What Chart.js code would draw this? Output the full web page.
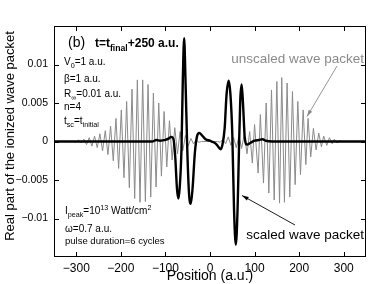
<!DOCTYPE html>
<html>
  <head>
    <title>Wave packet</title>
    <style>
      body {
        margin: 0;
        background: #fff;
      }
    </style>
  </head>
  <body>
    <canvas id="waveChart" width="388" height="284"></canvas>

    <script src="https://cdn.jsdelivr.net/npm/chart.js"></script>
    <script>
      // unscaled wave packet (grey), extrema
      var grayX = [
        -350, -307, -301, -295, -289, -283, -277, -271, -265, -259, -253, -247,
        -241, -235, -229, -223, -217, -211, -205, -199, -193, -187, -181, -175,
        -169, -163, -157, -151, -145, -139, -133, -127, -121, -115, -109, -103,
        -97, -91, -85, -79, -73, -67, -61, -55, -49, -43, -37, -31, -25, -19,
        17, 23, 29, 35, 41, 47, 53, 59, 65, 71, 77, 83, 89, 95, 100, 108, 113,
        120, 126, 132, 138, 144, 150, 156, 161, 167, 173, 179, 185, 191, 197,
        203, 209, 215, 220, 226, 232, 238, 244, 250, 255, 262, 268, 274, 279,
        285, 291, 297, 350,
      ];
      var grayY = [
        0, 0, -0.0001, 0.0002, -0.0002, 0.0003, -0.0004, 0.0005, -0.0006,
        0.0007, -0.0008, 0.001, -0.0012, 0.0014, -0.0017, 0.002, -0.0025, 0.003,
        -0.0035, 0.0041, -0.0047, 0.0052, -0.006, 0.0068, -0.0074, 0.008,
        -0.0079, 0.008, -0.0078, 0.0074, -0.0072, 0.0063, -0.0059, 0.005,
        -0.0045, 0.0039, -0.0033, 0.0027, -0.0024, 0.0018, -0.0016, 0.0013,
        -0.0012, 0.0008, -0.0006, 0.0004, -0.0003, 0.0002, -0.0001, 0,
        0, -0.0001, 0.0003, -0.0003, 0.0006, -0.0005, 0.0005, -0.0008, 0.0007,
        -0.0009, 0.001, -0.0016, 0.0013, -0.0028, 0.0022, -0.0041, 0.0035,
        -0.0054, 0.005, -0.0067, 0.0067, -0.0076, 0.0078, -0.008, 0.0083,
        -0.0079, 0.0076, -0.0072, 0.0065, -0.0056, 0.0052, -0.0043, 0.0041,
        -0.003, 0.003, -0.002, 0.0017, -0.0011, 0.0011, -0.0007, 0.0007,
        -0.0005, 0.0005, -0.0003, 0.0003, -0.0002, 0.0001, 0, 0,
      ];

      // scaled wave packet (black)
      var blackX = [
        -350, -130, -120, -112, -100, -92, -87, -82, -78, -74, -71, -68, -64,
        -61, -58, -55, -51, -47, -43, -39, -34, -29, -24, -18, -10, 0, 8, 15,
        20, 24, 28, 33, 37, 42, 46, 50, 54, 58, 62, 65, 68, 71, 74, 78, 83, 90,
        100, 110, 118, 125, 140, 350,
      ];
      var blackY = [
        0, 0, 0.0002, 0.0001, 0.0002, 0.0004, 0.0006, 0.0003, -0.002, -0.0062,
        -0.0074, -0.006, -0.001, 0.008, 0.0134, 0.008, -0.001, -0.0068,
        -0.0081, -0.006, -0.0015, 0.0007, 0.0011, 0.0008, 0.0003, 0.0001,
        -0.0001, -0.0004, -0.0008, -0.001, -0.0004, 0.0018, 0.006, 0.0079,
        0.006, 0.001, -0.009, -0.0134, -0.0085, -0.001, 0.0055, 0.0074, 0.005,
        0.0005, -0.0004, -0.0002, 0.0001, 0.0002, 0.0003, 0.0001, 0, 0,
      ];

      var xTicks = [-300, -200, -100, 0, 100, 200, 300];
      var yTicks = [-0.01, -0.005, 0, 0.005, 0.01];

      var FONT = "'Liberation Sans', Arial, Helvetica, sans-serif";

      function toPoints(xs, ys) {
        return xs.map(function (x, i) {
          return { x: x, y: ys[i] };
        });
      }

      function minusFmt(v) {
        return v < 0 ? "\u2212" + String(Math.abs(v)) : String(v);
      }

      // text with sub/superscripts: parts = [[text, kind], ...]
      function richText(ctx, x, y, parts, size, weight) {
        parts.forEach(function (p) {
          var kind = p[1] || "n";
          var s = kind === "n" ? size : size * 0.72;
          var dy = kind === "sub" ? size * 0.3 : kind === "sup" ? -size * 0.4 : 0;
          ctx.font = (weight || "normal") + " " + s + "px " + FONT;
          ctx.fillText(p[0], x, y + dy);
          x += ctx.measureText(p[0]).width;
        });
      }

      function arrow(ctx, x1, y1, x2, y2, color) {
        var a = Math.atan2(y2 - y1, x2 - x1);
        ctx.strokeStyle = color;
        ctx.fillStyle = color;
        ctx.lineWidth = 0.9;
        ctx.beginPath();
        ctx.moveTo(x1, y1);
        ctx.lineTo(x2, y2);
        ctx.stroke();
        ctx.beginPath();
        ctx.moveTo(x2, y2);
        ctx.lineTo(x2 - 7 * Math.cos(a - 0.3), y2 - 7 * Math.sin(a - 0.3));
        ctx.lineTo(x2 - 7 * Math.cos(a + 0.3), y2 - 7 * Math.sin(a + 0.3));
        ctx.closePath();
        ctx.fill();
      }

      var framePlugin = {
        id: "frame",
        afterDraw: function (chart) {
          var ctx = chart.ctx;
          var a = chart.chartArea;
          var sx = chart.scales.x;
          var sy = chart.scales.y;
          var L = Math.round(a.left), R = Math.round(a.right);
          var T = Math.round(a.top), B = Math.round(a.bottom);
          ctx.save();

          // box and inward ticks on all sides, as 1px filled strips
          ctx.fillStyle = "#000";
          ctx.fillRect(L, T, R - L, 1);
          ctx.fillRect(L, B - 1, R - L, 1);
          ctx.fillRect(L, T, 1, B - T);
          ctx.fillRect(R - 1, T, 1, B - T);
          xTicks.forEach(function (v) {
            var px = Math.round(sx.getPixelForValue(v));
            ctx.fillRect(px, B - 5, 1, 4);
            ctx.fillRect(px, T + 1, 1, 4);
          });
          yTicks.forEach(function (v) {
            var py = Math.round(sy.getPixelForValue(v));
            ctx.fillRect(L + 1, py, 4, 1);
            ctx.fillRect(R - 5, py, 4, 1);
          });

          // axis titles
          ctx.textAlign = "center";
          ctx.textBaseline = "middle";
          ctx.font = "14px " + FONT;
          ctx.fillText("Position (a.u.)", 210, 276);
          ctx.save();
          ctx.translate(10, 136);
          ctx.rotate(-Math.PI / 2);
          ctx.font = "13px " + FONT;
          ctx.fillText("Real part of the ionized wave packet", 0, 0);
          ctx.restore();

          // panel label and parameters
          ctx.textAlign = "left";
          ctx.textBaseline = "alphabetic";
          ctx.font = "14px " + FONT;
          ctx.fillText("(b)", 68, 47);
          richText(ctx, 95, 47, [["t=t"], ["final", "sub"], ["+250 a.u."]], 12, "bold");

          var s = 10;
          richText(ctx, 64, 65, [["V"], ["0", "sub"], ["=1 a.u."]], s);
          richText(ctx, 64, 81.5, [["\u03b2=1 a.u."]], s);
          richText(ctx, 64, 97, [["R"], ["\u221e", "sub"], ["=0.01 a.u."]], s);
          richText(ctx, 64, 110, [["n=4"]], s);
          richText(ctx, 64, 123.5, [["t"], ["sc", "sub"], ["=t"], ["initial", "sub"]], s);

          richText(ctx, 65, 214, [["I"], ["peak", "sub"], ["=10"], ["13", "sup"], [" Watt/cm"], ["2", "sup"]], s);
          richText(ctx, 65, 232, [["\u03c9=0.7 a.u."]], s);
          richText(ctx, 65, 243.5, [["pulse duration=6 cycles"]], 9.5);

          // curve labels with arrows
          ctx.textAlign = "right";
          ctx.font = "13.5px " + FONT;
          ctx.fillStyle = "#8a8a8a";
          ctx.fillText("unscaled wave packet", 364, 62.5);
          ctx.fillStyle = "#000";
          ctx.fillText("scaled wave packet", 364, 238.5);
          arrow(ctx, 337, 66, 307, 116.5, "#8a8a8a");
          arrow(ctx, 295, 225, 242, 195.5, "#000");

          ctx.restore();
        },
      };

      new Chart(document.getElementById("waveChart"), {
        type: "line",
        data: {
          datasets: [
            {
              label: "scaled wave packet",
              data: toPoints(blackX, blackY),
              borderColor: "#000",
              borderWidth: 2.4,
              pointRadius: 0,
              cubicInterpolationMode: "monotone",
              order: 0,
            },
            {
              label: "unscaled wave packet",
              data: toPoints(grayX, grayY),
              borderColor: "#8a8a8a",
              borderWidth: 1,
              pointRadius: 0,
              tension: 0,
              order: 1,
            },
          ],
        },
        options: {
          responsive: false,
          animation: false,
          devicePixelRatio: 1,
          layout: { padding: { left: 0, top: 26, right: 22, bottom: 0 } },
          plugins: { legend: { display: false }, tooltip: { enabled: false } },
          scales: {
            x: {
              type: "linear",
              min: -350,
              max: 350,
              afterBuildTicks: function (scale) {
                scale.ticks = xTicks.map(function (v) {
                  return { value: v };
                });
              },
              afterFit: function (scale) {
                scale.height = 27;
              },
              grid: { display: false },
              border: { display: false },
              ticks: {
                color: "#000",
                font: { family: FONT, size: 12 },
                padding: -4,
                maxRotation: 0,
                autoSkip: false,
                callback: function (v) {
                  return minusFmt(v);
                },
              },
            },
            y: {
              type: "linear",
              min: -0.015,
              max: 0.015,
              afterBuildTicks: function (scale) {
                scale.ticks = yTicks.map(function (v) {
                  return { value: v };
                });
              },
              afterFit: function (scale) {
                scale.width = 54;
              },
              grid: { display: false },
              border: { display: false },
              ticks: {
                color: "#000",
                font: { family: FONT, size: 10.5 },
                padding: -2,
                autoSkip: false,
                callback: function (v) {
                  return minusFmt(v);
                },
              },
            },
          },
        },
        plugins: [framePlugin],
      });
    </script>
  </body>
</html>
